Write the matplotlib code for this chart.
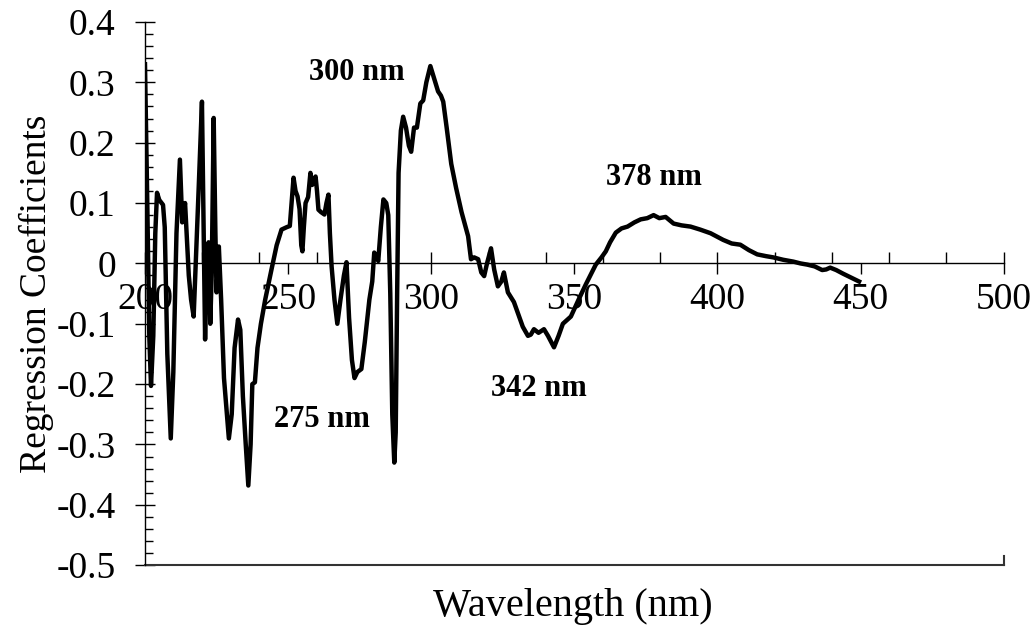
import numpy as np
import matplotlib
matplotlib.use("Agg")
import matplotlib.pyplot as plt
from matplotlib.ticker import MultipleLocator

# wavelength (nm) / regression coefficient
wl = [200.0, 200.8, 201.5, 202.1, 202.9, 203.6, 204.2, 205.0, 206.3, 206.9,
      207.8, 209.0, 209.9, 211.0, 212.2, 213.0, 214.0, 215.3, 216.1, 217.0,
      217.9, 218.8, 219.9, 220.5, 221.0, 221.6, 222.2, 222.8, 223.3, 224.0,
      224.6, 225.0, 225.8, 226.6, 227.6, 229.3, 230.3, 231.3, 232.5, 233.3,
      234.2, 235.2, 236.1, 236.9, 237.5, 238.4, 239.3, 240.5, 242.0, 244.2,
      246.0, 247.7, 249.5, 250.6, 251.2, 251.9, 252.6, 253.3, 254.0, 254.6,
      255.0, 255.5, 256.1, 257.0, 257.8, 258.4, 258.9, 259.6, 260.1, 260.6,
      261.5, 262.7, 263.4, 264.1, 264.6, 265.2, 266.2, 267.2, 268.3, 269.5,
      270.4, 271.3, 272.3, 273.2, 274.2, 275.6, 276.8, 278.4, 279.4, 280.1,
      281.0, 281.5, 282.4, 283.3, 284.3, 285.0, 285.7, 286.4, 287.1, 287.6,
      288.1, 288.6, 289.4, 290.2, 291.2, 292.2, 293.0, 294.0, 295.0, 296.2,
      297.2, 298.3, 299.7, 300.8, 302.4, 303.4, 304.2, 305.4, 307.0, 308.7,
      310.6, 312.9, 313.9, 315.0, 316.4, 317.5, 318.5, 319.5, 320.9, 322.0,
      323.3, 324.5, 325.4, 326.8, 328.9, 330.5, 332.0, 333.8, 334.8, 335.9,
      337.5, 339.4, 340.8, 342.9, 344.5, 346.0, 348.8, 351.5, 354.0, 357.5,
      359.5, 361.0, 362.5, 364.5, 366.5, 368.6, 371.0, 373.2, 375.5, 377.7,
      379.7, 381.9, 384.7, 387.5, 390.6, 394.0, 397.6, 400.0, 402.0, 405.0,
      408.0, 411.0, 413.9, 417.0, 419.5, 423.0, 426.5, 429.0, 431.4, 434.0,
      436.6, 438.0, 439.4, 441.5, 443.9, 446.5, 449.5]
coef = [0.33, 0.10, -0.12, -0.203, -0.12, 0.05, 0.117, 0.105, 0.097, 0.06,
        -0.15, -0.29, -0.18, 0.05, 0.172, 0.068, 0.10, -0.02, -0.06, -0.088,
        0.02, 0.13, 0.268, 0.05, -0.126, 0.02, 0.035, -0.10, -0.02, 0.241,
        0.05, -0.048, 0.028, -0.06, -0.19, -0.29, -0.25, -0.14, -0.093, -0.11,
        -0.22, -0.30, -0.368, -0.30, -0.20, -0.197, -0.14, -0.10, -0.06, -0.01,
        0.03, 0.056, 0.06, 0.062, 0.10, 0.142, 0.12, 0.111, 0.09, 0.03,
        0.02, 0.06, 0.10, 0.11, 0.15, 0.13, 0.138, 0.144, 0.12, 0.089,
        0.085, 0.081, 0.10, 0.114, 0.05, -0.005, -0.06, -0.10, -0.06, -0.02,
        0.002, -0.09, -0.16, -0.19, -0.18, -0.175, -0.13, -0.06, -0.03, 0.018,
        0.01, 0.004, 0.06, 0.106, 0.10, 0.08, -0.05, -0.25, -0.33, -0.28,
        -0.05, 0.15, 0.22, 0.243, 0.225, 0.195, 0.185, 0.225, 0.225, 0.265,
        0.27, 0.30, 0.327, 0.31, 0.285, 0.278, 0.268, 0.225, 0.165, 0.125,
        0.085, 0.045, 0.007, 0.01, 0.007, -0.015, -0.021, 0.00, 0.025, -0.01,
        -0.038, -0.03, -0.015, -0.048, -0.064, -0.085, -0.105, -0.12, -0.118, -0.109,
        -0.115, -0.109, -0.12, -0.139, -0.12, -0.10, -0.088, -0.06, -0.035, -0.002,
        0.01, 0.02, 0.035, 0.051, 0.058, 0.061, 0.068, 0.073, 0.075, 0.080,
        0.075, 0.077, 0.066, 0.063, 0.061, 0.056, 0.050, 0.044, 0.039, 0.033,
        0.031, 0.022, 0.015, 0.012, 0.010, 0.006, 0.003, 0.000, -0.002, -0.005,
        -0.011, -0.010, -0.007, -0.011, -0.017, -0.023, -0.030]

y_ticks = [-0.5, -0.4, -0.3, -0.2, -0.1, 0, 0.1, 0.2, 0.3, 0.4]
y_tick_labels = ["-0.5", "-0.4", "-0.3", "-0.2", "-0.1", "0", "0.1", "0.2", "0.3", "0.4"]

peak_labels = ["300 nm", "275 nm", "342 nm", "378 nm"]
peak_x = [273.9, 261.7, 337.6, 377.7]
peak_y = [0.317, -0.258, -0.208, 0.142]

plt.rcParams["font.family"] = ["Liberation Serif", "DejaVu Serif"]

fig = plt.figure(figsize=(10.32, 6.28), dpi=100)
ax = fig.add_axes([0.1405, 0.1, 0.832, 0.865])

ax.plot(wl, coef, color="black", lw=3.2, zorder=3, solid_joinstyle="round")

ax.set_xlim(200, 500)
ax.set_ylim(-0.5, 0.4)

# x axis drawn through zero, box bottom line at -0.5
ax.spines["bottom"].set_position(("data", 0))
ax.spines["top"].set_visible(False)
ax.spines["right"].set_visible(False)
ax.spines["bottom"].set_linewidth(1.0)
ax.spines["left"].set_linewidth(1.0)
ax.plot([200, 500], [-0.5, -0.5], color="#333333", lw=1.5, clip_on=False, zorder=2)
ax.plot([500, 500], [-0.5, -0.485], color="#333333", lw=1.5, clip_on=False, zorder=2)

ax.xaxis.set_major_locator(MultipleLocator(50))
ax.xaxis.set_minor_locator(MultipleLocator(20))
ax.xaxis.remove_overlapping_locs = False
ax.tick_params(axis="x", which="major", direction="out", length=8, width=1,
               labelsize=27, pad=6)
ax.tick_params(axis="x", which="minor", direction="in", length=8, width=1)

ax.set_yticks(y_ticks)
ax.set_yticklabels(y_tick_labels)
ax.yaxis.set_minor_locator(MultipleLocator(0.02))
ax.tick_params(axis="y", which="major", direction="inout", length=14, width=1,
               labelsize=27, pad=14)
ax.tick_params(axis="y", which="minor", direction="in", length=6, width=1)

ax.set_ylabel("Regression Coefficients", fontsize=27, labelpad=2)
fig.text(0.555, 0.035, "Wavelength (nm)", fontsize=29, ha="center", va="center")

for lab, x, y in zip(peak_labels, peak_x, peak_y):
    ax.text(x, y, lab, fontsize=22, fontweight="bold", ha="center", va="center")

fig.savefig("out.png", dpi=100)
